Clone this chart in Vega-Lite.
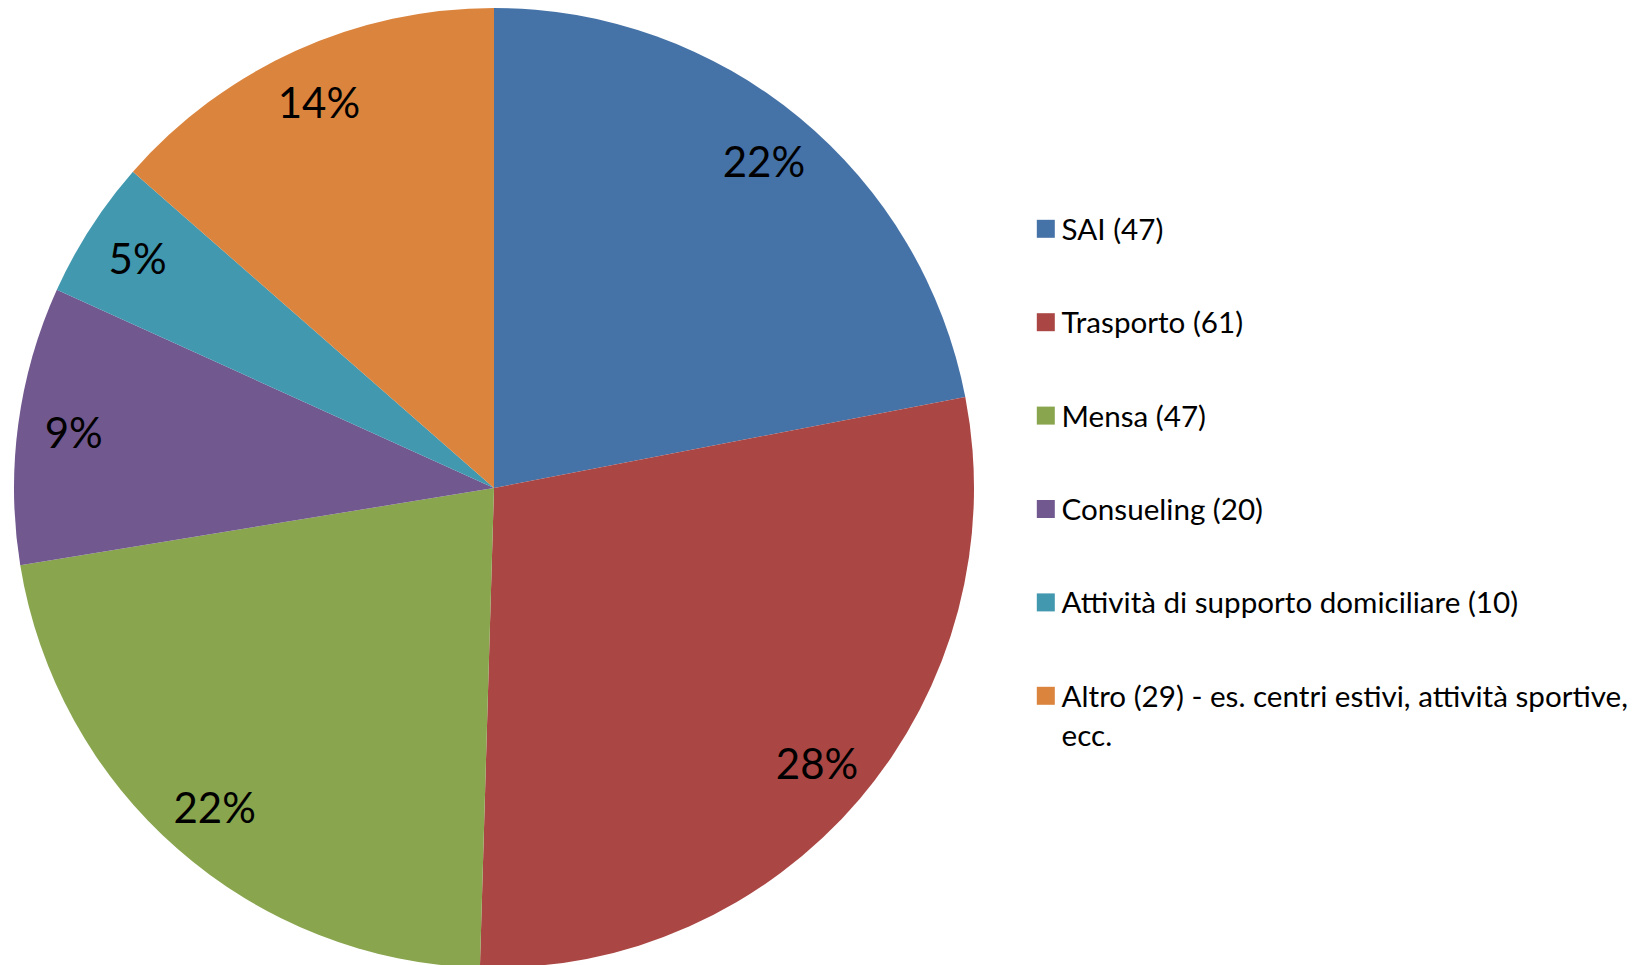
{
  "$schema": "https://vega.github.io/schema/vega-lite/v6.json",
  "width": 988,
  "height": 976,
  "padding": 0,
  "background": "white",
  "view": {"stroke": null},
  "data": {
    "values": [
      {"order": 1, "cat": "SAI (47)", "value": 47, "pct": "22%"},
      {"order": 2, "cat": "Trasporto (61)", "value": 61, "pct": "28%"},
      {"order": 3, "cat": "Mensa (47)", "value": 47, "pct": "22%"},
      {"order": 4, "cat": "Consueling (20)", "value": 20, "pct": "9%"},
      {"order": 5, "cat": "Attività di supporto domiciliare (10)", "value": 10, "pct": "5%"},
      {"order": 6, "cat": "Altro (29) - es. centri estivi, attività sportive, ecc.", "value": 29, "pct": "14%"}
    ]
  },
  "encoding": {
    "theta": {"field": "value", "type": "quantitative", "stack": true},
    "order": {"field": "order", "type": "quantitative"}
  },
  "layer": [
    {
      "mark": {"type": "arc", "outerRadius": 480},
      "encoding": {
        "color": {
          "field": "cat",
          "type": "nominal",
          "scale": {
            "domain": ["SAI (47)", "Trasporto (61)", "Mensa (47)", "Consueling (20)", "Attività di supporto domiciliare (10)", "Altro (29) - es. centri estivi, attività sportive, ecc."],
            "range": ["#4572A7", "#AA4643", "#89A54E", "#71588F", "#4198AF", "#DB843D"]
          },
          "legend": {
            "orient": "none",
            "legendX": 1031,
            "legendY": 214,
            "title": null,
            "padding": 0,
            "symbolType": "square",
            "symbolSize": 324,
            "symbolStrokeWidth": 0,
            "symbolOpacity": 1,
            "labelFont": "Lato",
            "labelFontSize": 29.6,
            "labelColor": "#000000",
            "labelOffset": 1,
            "labelLimit": 1000,
            "rowPadding": 61.4,
            "labelBaseline": "alphabetic",
            "labelExpr": "datum.value == 'Altro (29) - es. centri estivi, attività sportive, ecc.' ? ['Altro (29) - es. centri estivi, attività sportive,', 'ecc.'] : datum.label",
            "encode": {
              "labels": {"update": {"dy": {"value": 11}, "lineHeight": {"value": 39}}}
            }
          }
        }
      }
    },
    {
      "mark": {"type": "text", "radius": 424, "font": "Lato", "fontSize": 42, "color": "#000000", "align": "center", "baseline": "middle", "dy": 3},
      "encoding": {
        "text": {"field": "pct", "type": "nominal"}
      }
    }
  ]
}
